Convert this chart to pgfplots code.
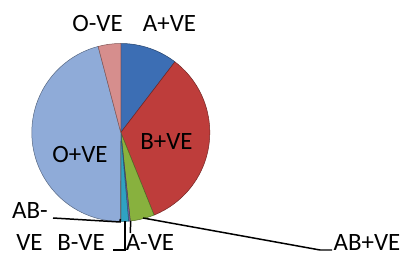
\documentclass[border=0pt]{standalone}
\usepackage{pgfplots}
\pgfplotsset{compat=1.18}
\usepackage{pgfplotstable}
\usepackage{fontspec}
\setmainfont{Carlito}
\definecolor{cApos}{HTML}{3C6EB4}
\definecolor{cBpos}{HTML}{BE3D3B}
\definecolor{cABpos}{HTML}{88B13E}
\definecolor{cAneg}{HTML}{7D5FA0}
\definecolor{cBneg}{HTML}{2FA2C2}
\definecolor{cABneg}{HTML}{F08A3A}
\definecolor{cOpos}{HTML}{8FABD8}
\definecolor{cOneg}{HTML}{D68E8D}

% blood group shares (percent), in Excel order (clockwise from 12 o'clock)
\pgfplotstableread{
label pct color
A+VE 10.4 cApos
B+VE 33.5 cBpos
AB+VE 4.4 cABpos
A-VE 0.3 cAneg
B-VE 1.4 cBneg
AB-VE 0.1 cABneg
O+VE 45.8 cOpos
O-VE 4.1 cOneg
}\blood

\begin{document}
\begin{tikzpicture}
\begin{axis}[hide axis, scale only axis, width=408bp, height=255bp,
  xmin=0, xmax=408, ymin=0, ymax=255, clip=false, enlargelimits=false]
\xdef\cum{0}
\pgfplotsinvokeforeach{0,...,7}{
  \pgfplotstablegetelem{#1}{pct}\of\blood \let\p=\pgfplotsretval
  \pgfplotstablegetelem{#1}{color}\of\blood \let\c=\pgfplotsretval
  \pgfmathsetmacro\sa{90-3.6*\cum}
  \pgfmathsetmacro\ea{90-3.6*(\cum+\p)}
  \pgfmathparse{\cum+\p}\xdef\cum{\pgfmathresult}
  \edef\tmp{\noexpand\fill[fill=\c, draw=\c!60!black, line width=0.5pt, line join=round]
    (axis cs:120.8,122.5) -- ++(\sa:89bp) arc[start angle=\sa, end angle=\ea, radius=89bp] -- cycle;}
  \tmp
}
% leader lines
\begin{scope}[black, line width=1.5pt]
\draw (axis cs:53,37) -- (axis cs:120,33) -- (axis cs:120.3,36);
\draw (axis cs:125,34) -- (axis cs:125,5) -- (axis cs:113,5);
\draw (axis cs:130.7,34) -- (axis cs:130.3,22);
\draw (axis cs:143,37) -- (axis cs:320,5) -- (axis cs:332,5);
\end{scope}
% labels
\begin{scope}[every node/.style={inner sep=0pt, anchor=base, font=\fontsize{25}{30}\selectfont}]
\node at (axis cs:97.5,223) {O-VE};
\node at (axis cs:169.5,223) {A+VE};
\node at (axis cs:166.5,105) {B+VE};
\node at (axis cs:80,92) {O+VE};
\node at (axis cs:30,36) {AB-};
\node at (axis cs:29.5,5) {VE};
\node at (axis cs:81,5) {B-VE};
\node at (axis cs:150,5) {A-VE};
\node at (axis cs:367,5) {AB+VE};
\end{scope}
\end{axis}
\pgfresetboundingbox
\path (current axis.south west) rectangle (current axis.north east);
\end{tikzpicture}
\end{document}
